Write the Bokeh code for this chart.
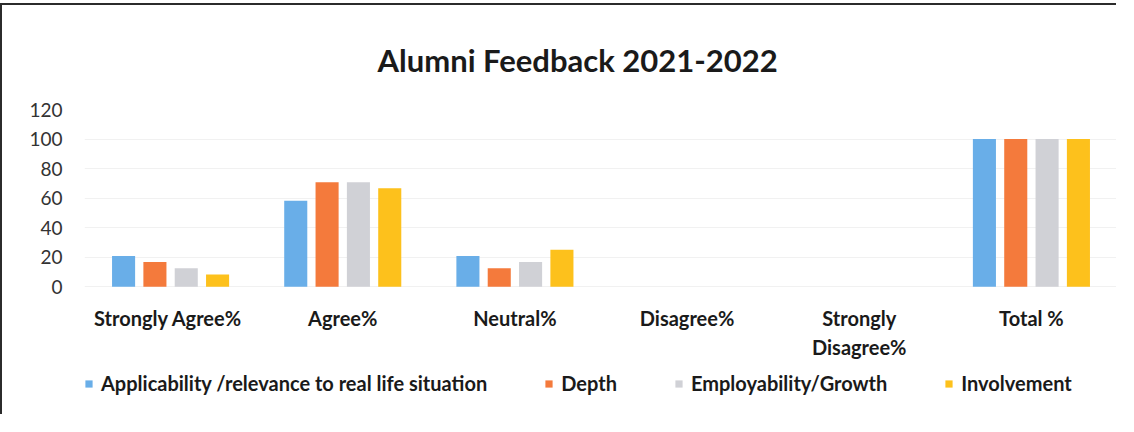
from bokeh.plotting import figure
from bokeh.models import ColumnDataSource, Legend, LegendItem, FactorRange
from bokeh.transform import dodge
from bokeh.embed import file_html
from bokeh.resources import INLINE

categories = ["Strongly  Agree%", "Agree%", "Neutral%", "Disagree%", "Strongly\nDisagree%", "Total %"]
series_names = ["Applicability /relevance to real life situation", "Depth",
                "Employability/Growth", "Involvement"]
applicability = [20.8, 58.3, 20.8, 0, 0, 100]
depth = [16.7, 70.8, 12.5, 0, 0, 100]
employability = [12.5, 70.8, 16.7, 0, 0, 100]
involvement = [8.3, 66.7, 25.0, 0, 0, 100]
y_ticks = [0, 20, 40, 60, 80, 100, 120]

colors = ["#69aee8", "#f47a3c", "#d0d1d6", "#fdc11c"]

source = ColumnDataSource(data=dict(cat=categories, a=applicability, d=depth,
                                    e=employability, i=involvement))

FONT = "Lato"

p = figure(x_range=FactorRange(*categories), y_range=(-77, 120),
           width=1116, height=411, output_backend="svg", toolbar_location=None,
           min_border_left=82, min_border_right=1, min_border_top=104, min_border_bottom=16)
p.styles = {"border-top": "2px solid #2b2b2b", "border-left": "2px solid #2b2b2b",
            "margin-top": "3px"}

p.title.text = "Alumni Feedback 2021-2022"
p.title.align = "left"
p.title.text_font = FONT
p.title.text_font_size = "31px"
p.title.text_font_style = "bold"
p.title.text_color = "#1a1a1a"
p.title.offset = 293
p.title.standoff = 62

offsets = [-0.273, -0.091, 0.091, 0.273]
cols = ["a", "d", "e", "i"]
renderers = []
for col, off, c in zip(cols, offsets, colors):
    r = p.vbar(x=dodge("cat", off, range=p.x_range), top=col, width=0.134,
               source=source, fill_color=c, line_color=None)
    renderers.append(r)

p.outline_line_color = None
p.background_fill_color = "white"
p.border_fill_color = "white"
p.xgrid.grid_line_color = None
p.ygrid.grid_line_color = "#f1f1f1"
p.ygrid.ticker = y_ticks

p.yaxis.ticker = y_ticks
p.yaxis.axis_line_color = None
p.yaxis.major_tick_line_color = None
p.yaxis.minor_tick_line_color = None
p.yaxis.major_tick_out = 0
p.yaxis.major_label_standoff = 22
p.yaxis.major_label_text_font = FONT
p.yaxis.major_label_text_font_size = "19px"
p.yaxis.major_label_text_color = "#333333"

p.xaxis.fixed_location = 0
p.xaxis.axis_line_color = None
p.xaxis.major_tick_line_color = None
p.xaxis.major_tick_out = 0
p.xaxis.major_label_standoff = 19
p.xaxis.major_label_text_font = FONT
p.xaxis.major_label_text_font_size = "20px"
p.xaxis.major_label_text_font_style = "bold"
p.xaxis.major_label_text_color = "#1a1a1a"

legend = Legend(items=[LegendItem(label=n, renderers=[r]) for n, r in zip(series_names, renderers)],
                orientation="horizontal", location=(0, 5))
legend.padding = 0
legend.margin = 0
legend.spacing = 57
legend.label_standoff = 8
legend.glyph_width = 9
legend.glyph_height = 9
legend.border_line_color = None
legend.background_fill_alpha = 0
legend.label_text_font = FONT
legend.label_text_font_size = "20px"
legend.label_text_font_style = "bold"
legend.label_text_color = "#1a1a1a"
p.add_layout(legend, "center")

open("out.html", "w").write(file_html(p, INLINE))
